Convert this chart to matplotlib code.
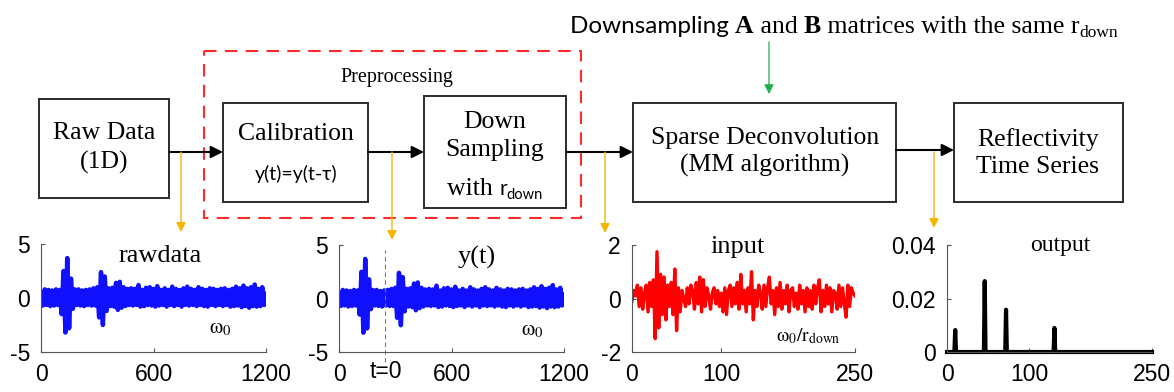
import matplotlib
matplotlib.use("Agg")
import matplotlib.pyplot as plt
import numpy as np
from matplotlib.patches import Rectangle

W, H = 1174, 392

# --- data ----------------------------------------------------------------
raw_step = 10  # samples between typed points of the raw trace
raw_vals = [
    0.3, -0.7, 0.8, -0.65, 0.75, -0.75, 0.7, -0.7, 0.8, -0.65,
    0.75, -1.5, 2.5, -3.2, 3.7, -2.8, 1.8, -1.0, 0.8, -0.65,
    0.8, -0.7, 0.7, -0.75, 0.75, -0.65, 0.8, -0.7, 0.9, -0.7,
    1.0, -1.8, 2.4, -2.5, 2.0, -1.2, 0.9, -0.75, 0.95, -0.8,
    1.4, -1.1, 1.5, -0.9, 1.0, -0.75, 0.85, -0.65, 0.9, -0.7,
    0.85, -0.65, 1.2, -0.8, 0.75, -0.75, 0.95, -0.65, 1.0, -0.7,
    0.85, -0.8, 1.1, -0.7, 0.75, -0.65, 0.9, -0.8, 0.75, -0.65,
    1.05, -0.75, 0.85, -0.65, 0.75, -0.8, 0.9, -0.65, 1.05, -0.7,
    0.85, -0.65, 0.75, -0.75, 1.0, -0.65, 0.85, -0.75, 0.75, -0.8,
    0.9, -0.65, 0.85, -0.75, 0.75, -0.65, 0.85, -0.75, 0.9, -0.65,
    0.75, -0.8, 0.85, -0.75, 1.05, -0.7, 0.9, -0.85, 1.15, -0.75,
    0.9, -0.9, 1.0, -0.75, 1.25, -0.8, 0.85, -0.75, 1.0, -0.65,
    0.4,
]
raw_xticks = [0, 600, 1200]
raw_yticks = [-5, 0, 5]
t0_pos = 245

input_step = 2
input_vals = [
    -0.1, 0.3, 0.1, 0.5, -0.3, 0.4, -0.4, 0.2, 0.5, -0.5,
    0.6, -0.3, 0.7, -1.5, 1.75, -1.1, 0.9, -0.6, 0.8, -0.8,
    0.5, -0.3, 0.6, -0.6, 1.1, -1.2, 0.4, -0.5, 0.3, 0.0,
    -0.3, 0.4, -0.2, 0.5, 0.3, -0.4, 0.6, -0.2, 0.8, -0.5,
    0.7, -0.3, 0.4, 0.1, -0.4, 0.2, 0.4, -0.2, 0.3, -0.3,
    0.2, -0.5, 0.4, -0.6, 0.3, 0.5, -0.3, 0.4, -0.2, 0.6,
    -0.4, 0.9, -0.2, 0.3, -0.5, 0.4, -0.2, 1.0, -0.8, 0.3,
    -0.3, 0.5, 0.2, -0.4, 0.5, -0.3, 0.4, 0.8, -0.2, 0.3,
    -0.6, 0.4, -0.3, 0.6, -0.4, 0.3, -0.2, 0.5, -0.5, 0.3,
    0.4, -0.3, 0.2, -0.4, 0.5, -0.2, 0.3, -0.5, 0.4, -0.3,
    0.3, -0.4, 0.5, -0.2, 0.4, 0.7, -0.5, 0.3, -0.3, 0.5,
    -0.2, 0.4, -0.5, 0.3, 0.2, -0.4, 0.5, -0.3, 0.4, -0.2,
    -0.7, 0.5, -0.3, 0.4, 0.2, 0.1,
]
input_xticks = [0, 100, 250]
input_yticks = [-2, 0, 2]

output_len = 251
spike_pos = [10, 46, 72, 131]
spike_amp = [0.0082, 0.0265, 0.0158, 0.0090]
output_xticks = [0, 100, 250]
output_yticks = [0, 0.02, 0.04]

plt.rcParams["mathtext.fontset"] = "stix"
plt.rcParams["axes.unicode_minus"] = False
SERIF = "Liberation Serif"
SANS = "Liberation Sans"

fig = plt.figure(figsize=(W / 100, H / 100), dpi=100)
ax0 = fig.add_axes([0, 0, 1, 1])
ax0.set_xlim(0, W)
ax0.set_ylim(H, 0)
ax0.axis("off")
renderer = fig.canvas.get_renderer()


def box(x0, y0, x1, y1):
    ax0.add_patch(Rectangle((x0, y0), x1 - x0, y1 - y0, fill=False,
                            ec="#2b2b2b", lw=1.4))


def arrow(x0, y0, x1, y1, color="black", lw=1.5, ms=18):
    ax0.annotate("", xy=(x1, y1), xytext=(x0, y0),
                 arrowprops=dict(arrowstyle="-|>", color=color, lw=lw,
                                 mutation_scale=ms, shrinkA=0, shrinkB=0))


def run_text(x, y, pieces, center=False):
    """Place text pieces one after another on a common baseline."""
    made = []
    cx = x
    for s, dy, kw in pieces:
        t = ax0.text(cx, y + dy, s, va="baseline", ha="left", **kw)
        bb = t.get_window_extent(renderer)
        cx += bb.width
        made.append(t)
    if center:
        shift = (cx - x) / 2
        for t in made:
            px, py = t.get_position()
            t.set_position((px - shift, py))


# boxes
box(39, 99, 169, 198)
box(223, 103, 368, 202)
box(424, 96, 566, 208)
box(633, 103, 896, 202)
box(954, 103, 1123, 202)

ax0.add_patch(Rectangle((204, 51), 581 - 204, 218 - 51, fill=False,
                        ec="#ff2a2a", lw=1.5, ls=(0, (6, 4))))

fs = 18.5
ax0.text(104, 148, "Raw Data\n(1D)", family=SERIF, fontsize=fs,
         ha="center", va="center", linespacing=1.35)
ax0.text(296, 134, "Calibration", family=SERIF, fontsize=fs,
         ha="center", va="center")
ax0.text(296, 174, "y(t)=y(t-τ)", family=["Lato", "DejaVu Sans"],
         fontsize=14, ha="center", va="center")
ax0.text(495, 136, "Down\nSampling", family=SERIF, fontsize=fs,
         ha="center", va="center", linespacing=1.3)
run_text(495, 195, [("with ", 0, dict(family=SERIF, fontsize=fs)),
                    ("r", 0, dict(family=["Lato", "DejaVu Sans"], fontsize=15)),
                    ("down", 4, dict(family=["Lato", "DejaVu Sans"], fontsize=10.5))],
         center=True)
ax0.text(397, 77, "Preprocessing", family=SERIF, fontsize=14.5,
         ha="center", va="center")
ax0.text(765, 152, "Sparse Deconvolution\n(MM algorithm)", family=SERIF,
         fontsize=fs, ha="center", va="center", linespacing=1.3)
ax0.text(1038, 153, "Reflectivity\nTime Series", family=SERIF,
         fontsize=fs, ha="center", va="center", linespacing=1.3)

run_text(570, 33, [
    ("Downsampling ", 0, dict(family=["Lato", "DejaVu Sans"], fontsize=17.5)),
    ("A", 0, dict(family=SERIF, fontsize=18.5, weight="bold")),
    (" and ", 0, dict(family=SERIF, fontsize=18.5)),
    ("B", 0, dict(family=SERIF, fontsize=18.5, weight="bold")),
    (" matrices with the same r", 0, dict(family=SERIF, fontsize=18.5)),
    ("down", 4, dict(family=SERIF, fontsize=12.5)),
])

# flow arrows
arrow(169, 152, 223, 152)
arrow(368, 152, 424, 152)
arrow(566, 152, 633, 152)
arrow(896, 150, 954, 150)
arrow(769, 42, 769, 94, color="#1fb04a", lw=0.9, ms=14)

yellow = "#f7b500"
for xa, ya in [(181, 232), (392, 240), (605, 233), (934, 228)]:
    arrow(xa, 152, xa, ya, color=yellow, lw=1.0, ms=14)


def signal_axes(x0, x1, y0, y1):
    a = fig.add_axes([x0 / W, 1 - y1 / H, (x1 - x0) / W, (y1 - y0) / H])
    a.set_facecolor("none")
    for s in ("top", "right"):
        a.spines[s].set_visible(False)
    for s in ("left", "bottom"):
        a.spines[s].set_color("#555555")
        a.spines[s].set_linewidth(0.8)
    a.tick_params(direction="in", length=3, width=0.8, color="#555555",
                  labelsize=16.5, pad=8)
    return a


raw_x = np.arange(len(raw_vals)) * raw_step

a1 = signal_axes(41, 266, 244, 352)
a1.plot(raw_x, raw_vals, color="#1010ff", lw=3.2, solid_joinstyle="round")
a1.set_xlim(0, 1200)
a1.set_ylim(-5, 5)
a1.set_xticks(raw_xticks)
a1.set_yticks(raw_yticks)

a2 = signal_axes(339, 564, 245, 352)
a2.plot(raw_x, raw_vals, color="#1010ff", lw=3.2, solid_joinstyle="round")
a2.plot([t0_pos, t0_pos], [-5.9, 4.5], color="#777777", lw=0.8,
        ls=(0, (4, 3)), clip_on=False)
a2.set_xlim(0, 1200)
a2.set_ylim(-5, 5)
a2.set_xticks(raw_xticks)
a2.set_yticks(raw_yticks)

a3 = signal_axes(632, 855, 245, 352)
a3.plot(np.arange(len(input_vals)) * input_step, input_vals, color="#ff0000",
        lw=2.4)
a3.set_xlim(0, 250)
a3.set_ylim(-2, 2)
a3.set_xticks(input_xticks)
a3.set_yticks(input_yticks)

output_vals = np.zeros(output_len)
output_vals[spike_pos] = spike_amp
a4 = signal_axes(947, 1152, 245, 352)
a4.plot(np.arange(output_len), output_vals, color="black", lw=3.0,
        clip_on=False)
a4.set_xlim(0, 250)
a4.set_ylim(0, 0.04)
a4.set_xticks(output_xticks)
a4.set_yticks(output_yticks)
a4.set_yticklabels(["0", "0.02", "0.04"])

for a in (a1, a2, a3, a4):
    for lab in a.get_xticklabels() + a.get_yticklabels():
        lab.set_family(SANS)

# panel labels
ax0.text(160, 256, "rawdata", family=SERIF, fontsize=19, ha="center", va="center")
ax0.text(477, 257, "y(t)", family=SERIF, fontsize=19, ha="center", va="center")
ax0.text(738, 247, "input", family=SERIF, fontsize=19, ha="center", va="center")
ax0.text(1060, 245, "output", family=SERIF, fontsize=17, ha="center", va="center")
ax0.text(220, 328, r"$\mathrm{\omega}_0$", fontsize=15, ha="center", va="center")
ax0.text(532, 330, r"$\mathrm{\omega}_0$", fontsize=15, ha="center", va="center")
ax0.text(808, 336, r"$\mathrm{\omega}_0/\mathrm{r}_{\mathrm{down}}$", fontsize=14,
         ha="center", va="center")
ax0.text(386, 371, "t=0", family=SANS, fontsize=16.5, ha="center", va="center")

fig.savefig("out.png", dpi=100)
